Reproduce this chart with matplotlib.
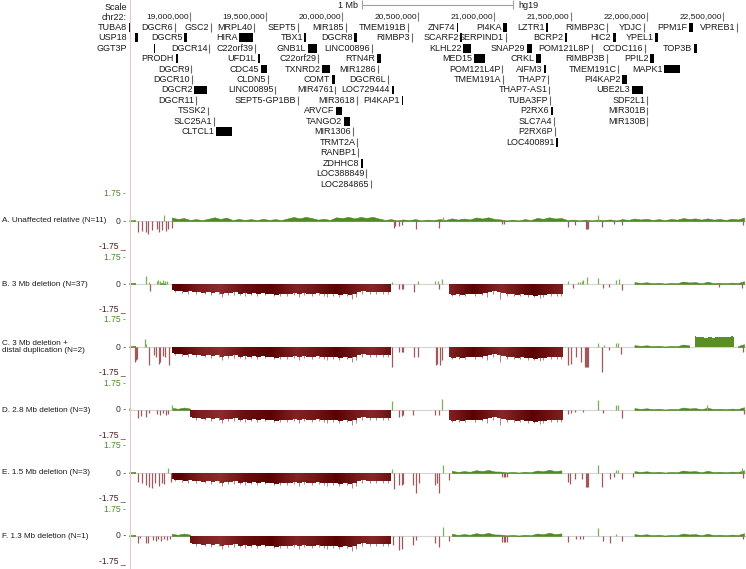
import numpy as np
import matplotlib.pyplot as plt
from matplotlib.lines import Line2D
from matplotlib.patches import Rectangle
from matplotlib.colors import LinearSegmentedColormap

plt.rcParams['font.family'] = ['Liberation Sans', 'DejaVu Sans']

W, H = 746, 569
X0, X1 = 18.5992, 22.653  # Mb shown (chr22, hg19)

# ---- genes (Mb); start == end -> drawn as thin tick
gene_name = ['TUBA8', 'DGCR6', 'GSC2', 'MRPL40', 'SEPT5', 'MIR185', 'TMEM191B', 'ZNF74', 'PI4KA', 'LZTR1', 'RIMBP3C', 'YDJC', 'PPM1F', 'VPREB1',
             'USP18', 'DGCR5', 'HIRA', 'TBX1', 'DGCR8', 'RIMBP3', 'SCARF2', 'SERPIND1', 'BCRP2', 'HIC2', 'YPEL1',
             'GGT3P', 'DGCR14', 'C22orf39', 'GNB1L', 'LINC00896', 'KLHL22', 'SNAP29', 'POM121L8P', 'CCDC116', 'TOP3B',
             'PRODH', 'UFD1L', 'C22orf29', 'RTN4R', 'MED15', 'CRKL', 'RIMBP3B', 'PPIL2',
             'DGCR9', 'CDC45', 'TXNRD2', 'MIR1286', 'POM121L4P', 'AIFM3', 'TMEM191C', 'MAPK1',
             'DGCR10', 'CLDN5', 'COMT', 'DGCR6L', 'TMEM191A', 'THAP7', 'PI4KAP2',
             'DGCR2', 'LINC00895', 'MIR4761', 'LOC729444', 'THAP7-AS1', 'UBE2L3',
             'DGCR11', 'SEPT5-GP1BB', 'MIR3618', 'PI4KAP1', 'TUBA3FP', 'SDF2L1',
             'TSSK2', 'ARVCF', 'P2RX6', 'MIR301B',
             'SLC25A1', 'TANGO2', 'SLC7A4', 'MIR130B',
             'CLTCL1', 'MIR1306', 'P2RX6P',
             'TRMT2A', 'LOC400891',
             'RANBP1', 'ZDHHC8', 'LOC388849', 'LOC284865']
gene_start = [18.599, 18.901, 19.138, 19.420, 19.708, 20.023, 20.430, 20.751, 21.057, 21.339, 21.740, 21.983, 22.279, 22.592,
              18.639, 18.961, 19.322, 19.752, 20.078, 20.457, 20.777, 21.074, 21.464, 21.777, 22.055,
              18.763, 19.127, 19.427, 19.775, 20.196, 20.794, 21.214, 21.639, 21.989, 22.311,
              18.906, 19.445, 19.841, 20.229, 20.866, 21.273, 21.738, 22.022,
              19.007, 19.466, 19.867, 20.235, 21.050, 21.326, 21.814, 22.114,
              19.011, 19.512, 19.933, 20.301, 21.057, 21.352, 21.838,
              19.026, 19.558, 19.953, 20.325, 21.359, 21.904,
              19.039, 19.708, 20.097, 20.391, 21.365, 22.001,
              19.118, 19.959, 21.370, 22.005,
              19.158, 20.012, 21.392, 22.005,
              19.171, 20.071, 21.398,
              20.097, 21.405,
              20.104, 20.122, 20.156, 20.187]
gene_end = [18.612, 18.901, 19.138, 19.420, 19.708, 20.023, 20.430, 20.764, 21.083, 21.352, 21.740, 21.983, 22.305, 22.592,
            18.658, 18.980, 19.414, 19.762, 20.097, 20.457, 20.787, 21.074, 21.477, 21.799, 22.074,
            18.773, 19.127, 19.427, 19.834, 20.196, 20.846, 21.247, 21.639, 21.989, 22.331,
            18.921, 19.460, 19.841, 20.255, 20.938, 21.306, 21.738, 22.048,
            19.007, 19.506, 19.920, 20.235, 21.050, 21.340, 21.814, 22.219,
            19.011, 19.512, 19.953, 20.301, 21.057, 21.352, 21.871,
            19.112, 19.558, 19.953, 20.340, 21.359, 21.977,
            19.039, 19.708, 20.097, 20.399, 21.365, 22.001,
            19.118, 19.999, 21.383, 22.005,
            19.158, 20.051, 21.392, 22.005,
            19.276, 20.071, 21.398,
            20.097, 21.418,
            20.104, 20.135, 20.156, 20.187]
gene_row = [0] * 14 + [1] * 11 + [2] * 10 + [3] * 8 + [4] * 8 + [5] * 7 + [6] * 6 + [7] * 6 + [8] * 4 + [9] * 4 + [10] * 3 + [11] * 2 + [12, 13, 14, 15]

tick_pos = [19.0, 19.5, 20.0, 20.5, 21.0, 21.5, 22.0, 22.5]
tick_lab = ['19,000,000', '19,500,000', '20,000,000', '20,500,000', '21,000,000', '21,500,000', '22,000,000', '22,500,000']

# ---- tracks
track_lab = ['A. Unaffected relative (N=11)', 'B. 3 Mb deletion (N=37)', 'C. 3 Mb deletion +\ndistal duplication (N=2)',
             'D. 2.8 Mb deletion (N=3)', 'E. 1.5 Mb deletion (N=3)', 'F. 1.3 Mb deletion (N=1)']

# background noise, 40 kb bins from 18.60 Mb
noise_x = np.round(18.60 + 0.04 * np.arange(102), 3)
noise_a = [0.04, 0.06, 0.03, 0.05, 0.04, 0.06, 0.03, 0.23, 0.13, 0.19, 0.07,
           0.12, 0.06, 0.14, 0.24, 0.13, 0.22, 0.06, 0.13, 0.07, 0.12,
           0.06, 0.14, 0.07, 0.12, 0.06, 0.16, 0.26, 0.17, 0.27, 0.19,
           0.09, 0.14, 0.07, 0.24, 0.19, 0.27, 0.17, 0.26, 0.20, 0.27,
           0.16, 0.07, 0.12, 0.04, 0.10, 0.06, 0.12, 0.04, 0.09, 0.06,
           0.12, 0.07, 0.17, 0.09, 0.16, 0.10, 0.23, 0.16, 0.24, 0.13,
           0.10, 0.04, 0.09, 0.04, 0.12, 0.06, 0.20, 0.14, 0.24, 0.16,
           0.19, 0.06, 0.09, 0.04, 0.09, 0.04, 0.09, 0.06, 0.10, 0.04,
           0.12, 0.07, 0.16, 0.10, 0.14, 0.07, 0.12, 0.06, 0.13, 0.09,
           0.19, 0.13, 0.17, 0.09, 0.17, 0.09, 0.13, 0.07, 0.14, 0.10, 0.22]
noise_b = [0.05, 0.08, 0.03, 0.06, 0.04, 0.07, 0.03, 0.14, 0.08, 0.16, 0.09,
           0.06, 0.03, 0.08, 0.04, 0.07, 0.03, 0.08, 0.04, 0.08, 0.03,
           0.07, 0.03, 0.08, 0.04, 0.07, 0.03, 0.08, 0.04, 0.07, 0.04,
           0.07, 0.03, 0.08, 0.04, 0.07, 0.03, 0.09, 0.04, 0.07, 0.03,
           0.08, 0.03, 0.07, 0.04, 0.07, 0.03, 0.08, 0.04, 0.06, 0.04,
           0.09, 0.06, 0.14, 0.07, 0.12, 0.08, 0.18, 0.12, 0.20, 0.10,
           0.09, 0.04, 0.07, 0.03, 0.08, 0.05, 0.16, 0.11, 0.21, 0.12,
           0.17, 0.05, 0.07, 0.03, 0.07, 0.03, 0.07, 0.04, 0.08, 0.03,
           0.07, 0.05, 0.12, 0.07, 0.11, 0.05, 0.08, 0.03, 0.07, 0.05,
           0.16, 0.10, 0.12, 0.05, 0.14, 0.06, 0.08, 0.05, 0.09, 0.06, 0.18]
noise_spans = [[(18.59, 18.66), (18.86, 22.65)],
               [(18.59, 18.65), (18.77, 18.87), (21.91, 22.65)],
               [(18.59, 18.65), (21.91, 22.31), (22.58, 22.65)],
               [(18.59, 18.62), (18.87, 19.01), (21.91, 22.65)],
               [(18.59, 18.64), (20.70, 21.47), (21.91, 22.65)],
               [(18.59, 18.64), (18.87, 19.01), (20.70, 21.47), (21.91, 22.65)]]

# deletion depth (log2 ratio), 30 kb steps
del1_x = np.round(18.88 + 0.03 * np.arange(49), 3)
del1_y = [-0.42, -0.48, -0.45, -0.52, -0.47, -0.55, -0.50, -0.56, -0.52, -0.58, -0.54, -0.66, -0.57,
          -0.60, -0.55, -0.62, -0.58, -0.63, -0.60, -0.66, -0.61, -0.67, -0.63, -0.69, -0.64, -0.66,
          -0.62, -0.60, -0.64, -0.58, -0.63, -0.66, -0.61, -0.65, -0.68, -0.63, -0.67, -0.70, -0.66,
          -0.72, -0.68, -0.52, -0.48, -0.53, -0.50, -0.55, -0.51, -0.54, -0.50]
del2_x = np.round(20.70 + 0.03 * np.arange(26), 3)
del2_y = [-0.62, -0.70, -0.66, -0.72, -0.67, -0.64, -0.68, -0.62, -0.60, -0.52, -0.48, -0.55, -0.60,
          -0.68, -0.64, -0.70, -0.66, -0.74, -0.70, -0.76, -0.72, -0.70, -0.64, -0.68, -0.62, -0.66]
# single probes below the deletion plateau
del_spikes = [(18.90, -0.55), (18.95, -0.58), (18.99, -0.62), (19.04, -0.66), (19.10, -0.64), (19.14, -0.70),
              (19.19, -0.68), (19.212, -0.85), (19.25, -0.72), (19.29, -0.70), (19.33, -0.74), (19.36, -0.80),
              (19.40, -0.72), (19.44, -0.78), (19.49, -0.74), (19.55, -0.80), (19.59, -0.76), (19.64, -0.78),
              (19.68, -0.72), (19.716, -0.86), (19.75, -0.74), (19.80, -0.78), (19.85, -0.74), (19.88, -0.80),
              (19.90, -0.82), (19.94, -0.76), (19.98, -0.82), (20.03, -0.80), (20.067, -0.95), (20.09, -0.82),
              (20.13, -0.62), (20.18, -0.64), (20.22, -0.66), (20.27, -0.62), (20.30, -0.64),
              (20.72, -0.78), (20.77, -0.80), (20.81, -0.78), (20.87, -0.78), (20.92, -0.72), (20.95, -0.82),
              (20.99, -0.62), (21.04, -0.98), (21.08, -0.78), (21.13, -0.80), (21.17, -0.78), (21.22, -0.86),
              (21.26, -0.84), (21.30, -0.88), (21.32, -0.84), (21.37, -0.78), (21.41, -0.80), (21.44, -0.76)]
del_spans = [[],
             [(18.88, 20.33), (20.70, 21.46)],
             [(18.88, 20.33), (20.70, 21.46)],
             [(19.00, 20.33), (20.70, 21.46)],
             [(18.88, 20.33)],
             [(19.00, 20.33)]]

# duplication in track C
dup_x = [22.315, 22.34, 22.365, 22.39, 22.415, 22.44, 22.465, 22.49, 22.515, 22.54, 22.565, 22.576]
dup_y = [0.70, 0.66, 0.62, 0.60, 0.62, 0.60, 0.63, 0.64, 0.62, 0.66, 0.70, 0.68]

# single probes / small blocks per track: (pos, value)
spikes = [
    [(18.660, -0.72), (18.683, -0.65), (18.709, -0.72), (18.726, -0.83), (18.752, -0.58), (18.781, -0.5), (18.798, -0.72),
     (18.818, -0.58), (18.831, 0.4), (18.840, -0.68), (18.857, -0.54), (18.880, -0.43),
     (20.340, -0.43), (20.345, -0.3), (20.375, -0.32), (20.391, -0.29), (20.483, -0.5), (20.636, -0.43), (20.660, 0.29),
     (21.05, -0.2), (21.06, -0.2), (21.486, -0.36), (21.530, -0.25), (21.604, -0.5), (21.611, -0.5), (21.618, -0.5),
     (21.683, 0.36), (21.705, -0.4), (21.788, -0.22), (21.836, -0.25), (22.635, -0.29)],
    [(18.709, 0.55), (18.731, 0.15), (18.735, -0.43), (18.78, 0.2), (18.79, 0.25), (18.805, 0.22), (18.82, 0.25),
     (18.835, 0.2), (18.85, 0.18), (20.33, 0.15), (20.375, -0.32), (20.39, -0.3), (20.401, -0.32), (20.472, -0.53),
     (20.500, 0.2), (20.61, 0.18), (20.63, 0.2), (20.636, -0.32), (20.654, 0.3), (21.482, 0.2), (21.514, -0.26),
     (21.55, 0.12), (21.56, 0.15), (21.574, 0.2), (21.582, 0.25), (21.606, 0.45), (21.683, 0.39), (21.714, -0.26),
     (21.755, -0.2), (21.80, 0.25), (21.817, 0.3), (21.836, -0.39), (22.474, -0.2), (22.627, -0.26)],
    [(18.636, -0.96), (18.645, -0.85), (18.655, -0.75), (18.703, 0.53), (18.708, 0.2), (18.731, -1.17), (18.765, -0.55),
     (18.776, -0.65), (18.795, -1.08), (18.805, -1.0), (18.82, -0.6), (18.835, -0.65), (18.862, -1.17),
     (20.33, -1.32), (20.375, -0.32), (20.39, -0.3), (20.401, -0.32), (20.472, -0.65), (20.50, -0.65),
     (20.614, -1.17), (20.625, -1.08), (20.643, -1.17), (20.654, -0.85), (21.482, -1.15), (21.503, -1.1),
     (21.536, -0.65), (21.569, -0.97), (21.592, -1.27), (21.60, -1.27), (21.608, -1.27), (21.616, -1.27),
     (21.683, 0.28), (21.705, -1.6), (21.722, 0.1), (21.755, -0.2), (21.80, 0.28), (21.815, 0.28), (21.832, -0.43),
     (22.635, -0.32)],
    [(18.597, 0.1), (18.605, 0.08), (18.66, -0.51), (18.675, -0.4), (18.709, -0.43), (18.73, -0.2), (18.78, -0.25),
     (18.80, -0.3), (18.82, -0.2), (18.84, -0.32), (18.857, -0.25), (18.880, 0.32), (20.325, 0.6), (20.375, -0.43),
     (20.391, -0.4), (20.401, -0.35), (20.467, -0.32), (20.610, -0.3), (20.636, -0.32), (20.654, 0.73),
     (21.486, -0.25), (21.50, -0.2), (21.53, -0.15), (21.582, -0.15), (21.683, 0.65), (21.714, -0.2),
     (21.799, 0.3), (21.81, 0.32), (21.836, -0.52), (22.40, 0.32), (22.64, -0.25)],
    [(18.660, -0.58), (18.683, -0.65), (18.709, -0.8), (18.731, -0.9), (18.748, -1.0), (18.770, -0.68), (18.798, -0.84),
     (18.818, -0.65), (18.831, -0.73), (18.857, 0.3), (18.873, -0.58), (20.325, 0.28), (20.340, -1.02), (20.375, -0.80),
     (20.391, -0.80), (20.401, -0.69), (20.467, -0.80), (20.483, -1.32), (20.505, -0.65), (20.610, -0.80),
     (20.621, -0.65), (20.636, -1.30), (20.660, 0.50), (20.704, -0.47), (21.05, -0.26), (21.06, -0.26), (21.07, -0.26),
     (21.08, -0.26), (21.486, -0.58), (21.497, -0.69), (21.530, -0.37), (21.574, -0.37), (21.604, -0.89),
     (21.611, -0.89), (21.618, -0.89), (21.683, 0.50), (21.705, -0.91), (21.760, -0.37), (21.788, -0.26),
     (21.80, 0.21), (21.81, 0.21), (21.836, -0.37), (21.913, -0.26), (22.63, 0.32), (22.635, -0.3)],
    [(18.660, -0.43), (18.672, -0.15), (18.709, -0.43), (18.726, -0.43), (18.76, -0.25), (18.775, -0.32), (18.79, -0.2),
     (18.81, -0.3), (18.83, -0.22), (18.85, -0.28), (18.87, -0.2), (20.336, -0.58), (20.375, -0.91), (20.391, -0.87),
     (20.467, -0.58), (20.483, -0.26), (20.610, -0.48), (20.636, -0.74), (20.660, 0.56), (20.704, -0.30),
     (21.05, -0.37), (21.06, -0.37), (21.07, -0.37), (21.08, -0.37), (21.482, -0.37), (21.536, -0.2), (21.56, -0.2),
     (21.58, -0.2), (21.683, 0.50), (21.714, -0.30), (21.760, -0.43), (21.80, 0.15), (21.836, -0.32), (22.635, -0.2)],
]

# shading of the dense deletion fill (0 dark .. 1 light)
band_x = [18.6, 18.93, 19.07, 19.2, 19.36, 19.53, 19.7, 19.85, 19.96, 20.1, 20.2, 20.33, 20.7, 20.86, 21.05, 21.25, 21.47, 22.65]
band_s = [0.3, 0.0, 0.7, 1.0, 0.3, 0.0, 0.8, 0.4, 0.0, 0.6, 0.9, 0.3, 0.8, 0.0, 0.9, 0.0, 0.8, 0.8]

# layout in pixels: zero line of each track, half height
track_mid = [221, 284, 347, 410, 473, 536]
HALF = 27

GREEN = '#4f8a22'
GREEN_LT = '#7fae5a'
SPIKE = '#a0585c'
FRINGE = '#a86c6e'
FS = 6.5
del_cmap = LinearSegmentedColormap.from_list('del', ['#5a0202', '#8c2c2c'])

fig = plt.figure(figsize=(W / 100, H / 100), dpi=100)


def px_axes(left, top, width, height):
    return fig.add_axes([left / W, 1 - (top + height) / H, width / W, height / H])


# ---- gene panel
ROW0, ROWH = 27.3, 10.45
g = px_axes(129, 0, 617, 190)
g.set_xlim(X0, X1)
g.set_ylim((190 - ROW0) / ROWH, -ROW0 / ROWH)
g.axis('off')

for name, s, e, r in zip(gene_name, gene_start, gene_end, gene_row):
    if e > s:
        g.add_patch(Rectangle((s, r - 0.42), e - s, 0.84, color='black', lw=0))
    else:
        g.vlines(s, r - 0.42, r + 0.42, color='#6a6a6a', lw=0.8)
    lx = s - 0.011 if s > 18.8 else 18.588   # labels that would cross the edge sit in the margin
    g.text(lx, r, name, ha='right', va='center', fontsize=FS, color='#1a1a1a')

r_pos = (17 - ROW0) / ROWH
for p, lab in zip(tick_pos, tick_lab):
    g.vlines(p, (12.5 - ROW0) / ROWH, (21 - ROW0) / ROWH, color='#7a7a7a', lw=0.8)
    g.text(p - 0.006, r_pos, lab, ha='right', va='center', fontsize=6.0, color='#1a1a1a')
g.text(18.586, r_pos, 'chr22:', ha='right', va='center', fontsize=FS, color='#1a1a1a')
g.text(18.586, (7 - ROW0) / ROWH, 'Scale', ha='right', va='center', fontsize=FS, color='#1a1a1a')

r_sc = (5 - ROW0) / ROWH
g.hlines(r_sc, 20.127, 21.123, color='#a0a0a0', lw=0.8)
g.vlines([20.127, 21.123], (0.5 - ROW0) / ROWH, (9.5 - ROW0) / ROWH, color='#a0a0a0', lw=0.8)
g.text(20.104, r_sc, '1 Mb', ha='right', va='center', fontsize=FS, color='#1a1a1a')
g.text(21.155, r_sc, 'hg19', ha='left', va='center', fontsize=FS, color='#1a1a1a')

# ---- data tracks
shade_x = np.linspace(X0, X1, 800)
shade = np.interp(shade_x, band_x, band_s)[None, :]

for i in range(6):
    ax = px_axes(129, track_mid[i] - HALF, 617, 2 * HALF)
    ax.patch.set_alpha(0)
    ax.axis('off')

    # vertical scale labels just left of the data area
    yt = ax.get_yaxis_transform()
    ax.text(-0.005, 1.75, '1.75 -', transform=yt, ha='right', va='center', fontsize=6.2, color='#4a8a2a')
    ax.text(-0.005, 0, '0 -', transform=yt, ha='right', va='center', fontsize=6.2, color='#333333')
    ax.text(-0.005, -1.75, '-1.75 _', transform=yt, ha='right', va='baseline', fontsize=6.2, color='#4a1a1a')

    ax.axhline(0, color='#d4d4d4', lw=0.8, zorder=1)

    nz = np.array(noise_a if i == 0 else noise_b)
    for s, e in noise_spans[i]:
        m = (noise_x >= s) & (noise_x <= e)
        ax.fill_between(noise_x[m], 0, nz[m], color=GREEN, lw=0.4, zorder=2)

    for s, e in del_spans[i]:
        for p, v in del_spikes:
            if s <= p <= e:
                ax.vlines(p, 0, v, color=FRINGE, lw=0.6, zorder=2.5)
        for dx, dy in ((del1_x, del1_y), (del2_x, del2_y)):
            dy = np.array(dy)
            m = (dx >= s) & (dx <= e)
            if m.any():
                poly = ax.fill_between(dx[m], 0, dy[m], step='mid', color='#6e1010', lw=0, zorder=3)
                im = ax.imshow(shade, cmap=del_cmap, vmin=0, vmax=1, extent=(X0, X1, -1.75, 0),
                               aspect='auto', interpolation='bilinear', zorder=3.1)
                im.set_clip_path(poly.get_paths()[0], ax.transData)

    if i == 2:
        ax.fill_between(dup_x, 0, dup_y, step='mid', color='#5a8f25', lw=0, zorder=3)

    for p, v in spikes[i]:
        ax.vlines(p, 0, v, color=SPIKE if v < 0 else GREEN_LT, lw=0.9, zorder=4)

    ax.set_xlim(X0, X1)
    ax.set_ylim(-1.75, 1.75)

    fig.text(2 / W, 1 - track_mid[i] / H, track_lab[i], ha='left', va='center', fontsize=5.9,
             color='#1a1a1a', linespacing=1.1)

fig.add_artist(Line2D([129.5 / W, 129.5 / W], [0, 1], color='#e8c9c9', lw=0.8))

fig.savefig('out.png', dpi=100)
